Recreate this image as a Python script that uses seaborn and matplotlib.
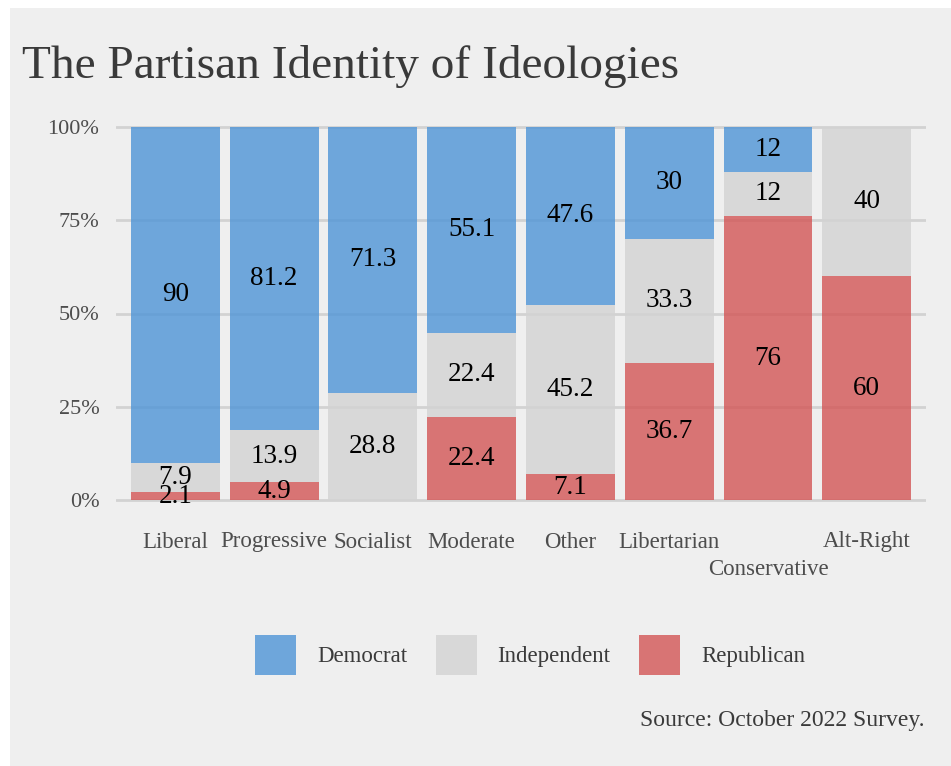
import numpy as np
import pandas as pd
import matplotlib
matplotlib.use("Agg")
import matplotlib.pyplot as plt
from matplotlib.patches import Rectangle, Patch
import seaborn as sns

ideologies = ["Liberal", "Progressive", "Socialist", "Moderate", "Other",
              "Libertarian", "Conservative", "Alt-Right"]
democrat = [90, 81.2, 71.3, 55.1, 47.6, 30, 12, 0]
independent = [7.9, 13.9, 28.8, 22.4, 45.2, 33.3, 12, 40]
republican = [2.1, 4.9, 0, 22.4, 7.1, 36.7, 76, 60]
parties = ["Democrat", "Independent", "Republican"]
y_ticks = [0, 25, 50, 75, 100]
y_tick_labels = ["0%", "25%", "50%", "75%", "100%"]

colors = {"Democrat": "#4e94d7", "Independent": "#d3d3d3", "Republican": "#d35555"}
BG = "#efefef"
SERIF = ["Liberation Serif", "DejaVu Serif"]

sns.set_theme(style="white")
plt.rcParams["font.family"] = SERIF

df = pd.DataFrame({"ideology": ideologies, "Democrat": democrat,
                   "Independent": independent, "Republican": republican})
long = df.melt(id_vars="ideology", var_name="party", value_name="value")
totals = long.groupby("ideology")["value"].transform("sum")
long["share"] = long["value"] / totals * 100

fig = plt.figure(figsize=(9.51, 7.66), dpi=100)
fig.patch.set_facecolor("white")
fig.add_artist(Rectangle((10 / 951, 0), 1, 1 - 8 / 766, transform=fig.transFigure,
                         facecolor=BG, edgecolor="none", zorder=-10))

W, H = 951, 766
ax = fig.add_axes([116 / W, 1 - 519 / H, (926 - 116) / W, (519 - 108) / H])
ax.set_facecolor(BG)
ax.patch.set_alpha(0)

# stack from the bottom: Republican, Independent, Democrat
bottoms = np.zeros(len(ideologies))
for party in ["Republican", "Independent", "Democrat"]:
    sub = long[long["party"] == party].set_index("ideology").loc[ideologies]
    heights = sub["share"].to_numpy()
    sns.barplot(x=ideologies, y=heights, bottom=bottoms, order=ideologies,
                color=colors[party], alpha=0.8, width=0.9, ax=ax,
                edgecolor="none", linewidth=0, saturation=1, zorder=2)
    for i, (h, v) in enumerate(zip(heights, sub["value"].to_numpy())):
        if v > 0:
            ax.text(i, bottoms[i] + h / 2, f"{v:g}", ha="center", va="center",
                    fontsize=19.5, color="black", zorder=4)
    bottoms = bottoms + heights

ax.set_xlim(-0.6, len(ideologies) - 0.4)
ax.set_ylim(-5, 105)
ax.set_yticks(y_ticks)
ax.set_yticklabels(y_tick_labels)
for t in y_ticks:
    ax.axhline(t, color="#d2d2d2", linewidth=2, zorder=1)
for s in ax.spines.values():
    s.set_visible(False)
ax.tick_params(axis="both", length=0, labelsize=16, labelcolor="#4d4d4d")
ax.tick_params(axis="y", pad=12)
ax.set_xticks(range(len(ideologies)))
ax.set_xticklabels(ideologies)
for i, lab in enumerate(ax.get_xticklabels()):
    lab.set_fontsize(16.5)
    lab.set_color("#4d4d4d")
    if ideologies[i] == "Conservative":
        lab.set_y(-0.068)
ax.tick_params(axis="x", pad=9)
ax.set_xlabel("")
ax.set_ylabel("")

fig.text(22 / W, 1 - 78 / H, "The Partisan Identity of Ideologies",
         fontsize=34, color="#3a3a3a", ha="left", va="baseline")

handles = [Patch(facecolor=colors[p], alpha=0.8, edgecolor="none") for p in parties]
leg = fig.legend(handles, parties, loc="center", bbox_to_anchor=(530 / W, 1 - 655 / H),
                 ncol=3, frameon=False, fontsize=16.5, handlelength=1.8, handleheight=2.3,
                 handletextpad=0.9, columnspacing=1.25, labelcolor="#3a3a3a")

fig.text(925 / W, 1 - 726 / H, "Source: October 2022 Survey.", fontsize=17,
         color="#3a3a3a", ha="right", va="baseline")

fig.savefig("out.png", dpi=100, facecolor="white")
